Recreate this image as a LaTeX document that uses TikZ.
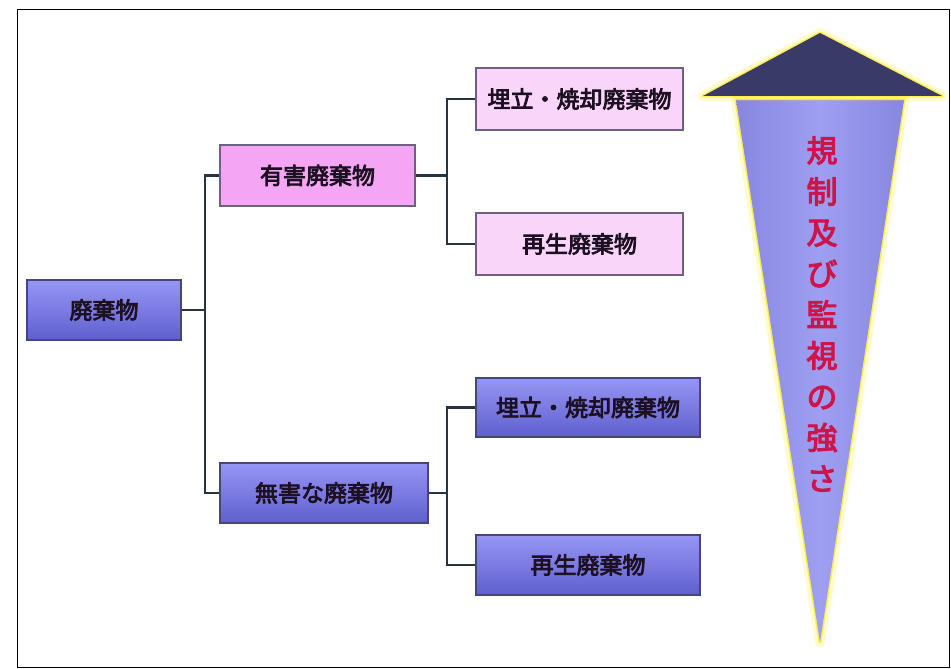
\documentclass[tikz,border=0pt]{standalone}
\usepackage{fontspec}
\newfontfamily\cjk[AutoFakeBold=3.5]{Noto Sans CJK JP}
\definecolor{linec}{RGB}{40,52,66}
\definecolor{boxedge}{RGB}{110,96,130}
\definecolor{blueedge}{RGB}{70,70,125}
\definecolor{bluetop}{RGB}{150,150,245}
\definecolor{bluebot}{RGB}{95,95,205}
\definecolor{pinkfill}{RGB}{244,166,244}
\definecolor{lpinkfill}{RGB}{249,214,249}
\definecolor{txtc}{RGB}{28,16,34}
\definecolor{headc}{RGB}{58,58,105}
\definecolor{shaftc}{RGB}{158,158,242}
\definecolor{shaftd}{RGB}{135,135,225}
\definecolor{redtxt}{RGB}{205,20,75}
\tikzset{
  basebox/.style={rectangle, inner sep=0pt, line width=1.6pt, font=\cjk\bfseries\fontsize{23}{26}\selectfont, text=txtc},
  bluebox/.style={basebox, draw=blueedge, top color=bluetop, bottom color=bluebot},
  pinkbox/.style={basebox, draw=boxedge, fill=pinkfill},
  lpinkbox/.style={basebox, draw=boxedge, fill=lpinkfill},
  conn/.style={draw=linec, line width=2.6pt},
  glowwide/.style={draw=yellow, line width=10pt, opacity=0.2, line join=round},
  glownarrow/.style={draw=yellow!85!orange, line width=3pt, opacity=0.6, line join=round}
}
\begin{document}
\begin{tikzpicture}[x=1pt,y=-1pt]
\useasboundingbox (0,0) rectangle (951,669);
\fill[white] (0,0) rectangle (951,669);
\draw[black, line width=1pt] (17,10) rectangle (949,667);

% nodes
\node[bluebox, minimum width=154pt, minimum height=60pt] (root) at (104,310) {廃棄物};
\node[pinkbox, minimum width=195pt, minimum height=61pt] (haz) at (317.5,175.5) {有害廃棄物};
\node[lpinkbox, minimum width=207pt, minimum height=62pt] (hland) at (579.5,99) {埋立・焼却廃棄物};
\node[lpinkbox, minimum width=207pt, minimum height=62pt] (hrec) at (579.5,244) {再生廃棄物};
\node[bluebox, minimum width=208pt, minimum height=60pt] (nhaz) at (324,493) {無害な廃棄物};
\node[bluebox, minimum width=224pt, minimum height=59pt] (nland) at (588,407.5) {埋立・焼却廃棄物};
\node[bluebox, minimum width=224pt, minimum height=60pt] (nrec) at (588,565) {再生廃棄物};

% connectors
\coordinate (j1) at (205,310);
\coordinate (j2) at (447,175.5);
\coordinate (j3) at (447,493);
\draw[conn] (root.east) -- (j1);
\draw[conn] (haz.west) -- (haz.west -| j1) -- (nhaz.west -| j1) -- (nhaz.west);
\draw[conn] (haz.east) -- (j2);
\draw[conn] (hland.west) -- (hland.west -| j2) -- (hrec.west -| j2) -- (hrec.west);
\draw[conn] (nhaz.east) -- (j3);
\draw[conn] (nland.west) -- (nland.west -| j3) -- (nrec.west -| j3) -- (nrec.west);

% arrow
\coordinate (htip) at (820,33);
\coordinate (hl) at (703,96);
\coordinate (hr) at (942,96);
\coordinate (sl) at (736,100);
\coordinate (sr) at (904,100);
\coordinate (stip) at (820,642);
\draw[glowwide] (sl) -- (sr) -- (stip) -- cycle;
\draw[glownarrow] (sl) -- (sr) -- (stip) -- cycle;
\shade[left color=shaftd, right color=shaftd, middle color=shaftc] (sl) -- (sr) -- (stip) -- cycle;
\draw[glowwide] (htip) -- (hr) -- (hl) -- cycle;
\draw[glownarrow] (htip) -- (hr) -- (hl) -- cycle;
\fill[headc] (htip) -- (hr) -- (hl) -- cycle;

\node[text=redtxt, font=\cjk\bfseries\fontsize{31}{41}\selectfont, align=center, inner sep=0pt] (vt) at (822,314) {規\\制\\及\\び\\監\\視\\の\\強\\さ};
\end{tikzpicture}
\end{document}
